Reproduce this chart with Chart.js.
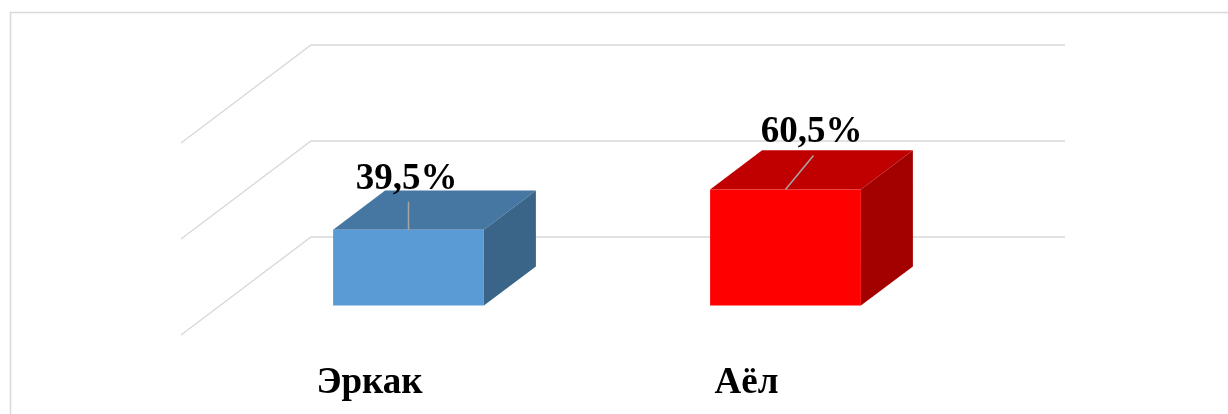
<!DOCTYPE html>
<html>
<head>
<meta charset="utf-8">
<script src="https://cdn.jsdelivr.net/npm/chart.js@4/dist/chart.umd.min.js"></script>
<style>
  html, body { margin: 0; padding: 0; background: #fff; }
  canvas { display: block; }
</style>
</head>
<body>
<canvas id="chart" width="1228" height="414"></canvas>
<script>
// data
const categories = ["Эркак", "Аёл"];
const shares = [39.5, 60.5];
const yTicks = [0, 50, 100];

// colours: front, top, side
const frontColors = ["#5B9BD5", "#FF0000"];
const topColors = ["#4677A3", "#C00000"];
const sideColors = ["#3A6588", "#A30000"];

// oblique depth of the floor/walls
const DEPTH_X = 130;
const DEPTH_Y = 98;
const BAR_START = 0.3;  // where the bar front sits in the depth
const BAR_DEPTH = 0.4;

// label nudges (label centre relative to bar front top centre)
const labelOffsets = [[-2, -41], [26, -47]];

const FONT = 'bold 37px "Liberation Serif", "Times New Roman", serif';

const box3d = {
  id: "box3d",
  beforeDraw(chart) {
    const ctx = chart.ctx;
    ctx.save();
    ctx.strokeStyle = "#d9d9d9";
    ctx.lineWidth = 1.5;
    ctx.strokeRect(10.5, 12.5, 1400, 600);
    ctx.restore();
  },
  beforeDatasetsDraw(chart) {
    const { ctx, chartArea: a, scales: { y } } = chart;
    ctx.save();
    ctx.strokeStyle = "#d9d9d9";
    ctx.lineWidth = 1.5;
    yTicks.forEach(t => {
      const py = y.getPixelForValue(t);
      ctx.beginPath();
      ctx.moveTo(a.left, py);
      ctx.lineTo(a.left + DEPTH_X, py - DEPTH_Y);
      ctx.lineTo(a.right + DEPTH_X, py - DEPTH_Y);
      ctx.stroke();
    });
    ctx.restore();

    // shift so the bars sit inside the box, then draw top + side faces
    ctx.save();
    ctx.translate(DEPTH_X * BAR_START, -DEPTH_Y * BAR_START);
    const bx = DEPTH_X * BAR_DEPTH, by = DEPTH_Y * BAR_DEPTH;
    chart.getDatasetMeta(0).data.forEach((bar, i) => {
      const x0 = bar.x - bar.width / 2, x1 = bar.x + bar.width / 2;
      const top = bar.y, base = bar.base;
      ctx.fillStyle = topColors[i];
      ctx.beginPath();
      ctx.moveTo(x0, top);
      ctx.lineTo(x0 + bx, top - by);
      ctx.lineTo(x1 + bx, top - by);
      ctx.lineTo(x1, top);
      ctx.closePath();
      ctx.fill();
      ctx.fillStyle = sideColors[i];
      ctx.beginPath();
      ctx.moveTo(x1, top);
      ctx.lineTo(x1 + bx, top - by);
      ctx.lineTo(x1 + bx, base - by);
      ctx.lineTo(x1, base);
      ctx.closePath();
      ctx.fill();
    });
  },
  afterDatasetsDraw(chart) {
    const { ctx, scales: { x } } = chart;
    ctx.restore();

    const sx = DEPTH_X * BAR_START, sy = -DEPTH_Y * BAR_START;
    ctx.save();
    ctx.font = FONT;
    ctx.fillStyle = "#000";
    ctx.textAlign = "center";
    ctx.textBaseline = "alphabetic";
    chart.getDatasetMeta(0).data.forEach((bar, i) => {
      const ax = bar.x + sx, ay = bar.y + sy;
      const lx = ax + labelOffsets[i][0], ly = ay + labelOffsets[i][1];
      ctx.strokeStyle = "#A6A6A6";
      ctx.lineWidth = 1.5;
      ctx.beginPath();
      ctx.moveTo(ax, ay);
      ctx.lineTo(lx + 2, ly + 13);
      ctx.stroke();
      ctx.fillText(shares[i].toFixed(1).replace(".", ",") + "%", lx, ly);
    });

    // category labels
    categories.forEach((c, i) => {
      ctx.fillText(c, x.getPixelForValue(i), 393);
    });
    ctx.restore();
  }
};

new Chart(document.getElementById("chart"), {
  type: "bar",
  data: {
    labels: categories,
    datasets: [{
      data: shares,
      backgroundColor: frontColors,
      borderWidth: 0,
      categoryPercentage: 1,
      barPercentage: 0.4,
      clip: false
    }]
  },
  options: {
    responsive: false,
    animation: false,
    devicePixelRatio: 1,
    layout: { padding: { left: 181, right: 293, top: 143, bottom: 79 } },
    scales: {
      x: { display: false },
      y: { display: false, min: 0, max: 100 }
    },
    plugins: {
      legend: { display: false },
      tooltip: { enabled: false }
    }
  },
  plugins: [box3d]
});
</script>
</body>
</html>
